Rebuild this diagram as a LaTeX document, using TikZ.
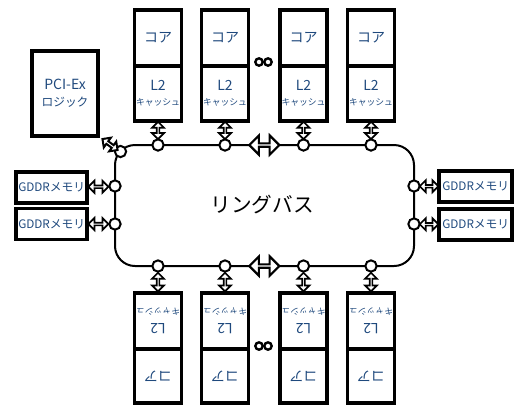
\documentclass[tikz,border=0pt]{standalone}
\usepackage{fontspec}
\setmainfont{Noto Sans CJK JP}
\usetikzlibrary{shapes.arrows,calc}
\definecolor{txtblue}{RGB}{31,73,125}
\begin{document}
\begin{tikzpicture}[x=0.75pt,y=-0.75pt,
  sect/.style={draw, line width=2.3pt, inner sep=0pt, minimum width=35.25pt, minimum height=42pt, text=txtblue, align=center},
  sidebox/.style={draw, line width=2.3pt, inner sep=0pt, minimum height=23.25pt},
  blue9/.style={text=txtblue, font=\fontsize{8.8}{10}\selectfont, inner sep=0pt},
  port/.style={circle, draw, fill=white, line width=1.5pt, minimum size=8.5pt, inner sep=0pt},
  dotc/.style={circle, draw, line width=1.8pt, minimum size=5.5pt, inner sep=0pt},
  ring/.style={line width=1.5pt},
  dbl/.style={double arrow, draw, fill=white, line width=1.3pt, inner sep=0pt, minimum width=9pt, double arrow head extend=2.2pt},
  bigdbl/.style={double arrow, draw, fill=white, line width=1.6pt, inner sep=0pt, minimum width=14.5pt, double arrow head extend=3.8pt}
]
\useasboundingbox (0,0) rectangle (514,405);

% ring bus
\draw[ring, rounded corners=15pt] (115,145) rectangle (414,266);
\node[font=\fontsize{15.5}{18}\selectfont] (ringtxt) at (262,205) {リングバス};

% core units
\foreach \i/\x in {1/158,2/225,3/303.5,4/371}{
  % top
  \node[sect] (tc\i) at (\x,38) {\fontsize{10.5}{12}\selectfont コア};
  \node[sect, minimum height=41.25pt] (tl\i) at (\x,93.5)
     {{\fontsize{10.5}{11}\selectfont L2}\\[-1pt]{\fontsize{6.6}{7}\selectfont キャッシュ}};
  \node[port] (ct\i) at (\x,145) {};
  \node[dbl, rotate=90, minimum height=13pt] (vt\i) at ($(tl\i.south)!0.5!(ct\i.north)$) {};
  % bottom (upside down)
  \node[sect, rotate=180] (bl\i) at (\x,321)
     {{\fontsize{10.5}{11}\selectfont L2}\\[-1pt]{\fontsize{6.6}{7}\selectfont キャッシュ}};
  \node[sect, rotate=180, minimum height=40.5pt] (bc\i) at (\x,376) {\fontsize{10.5}{12}\selectfont コア};
  \node[port] (cb\i) at (\x,266) {};
  \node[dbl, rotate=90, minimum height=14pt] (vb\i) at ($(bl\i.south)!0.5!(cb\i.south)$) {};
}

% dots
\node[dotc] (d1) at (259,62) {};
\node[dotc] (d2) at (268,62) {};
\node[dotc] (d3) at (259,346) {};
\node[dotc] (d4) at (268,346) {};

% middle ring arrows
\node[bigdbl, minimum height=22.5pt] (mt) at ($(ct2)!0.5!(ct3)$) {};
\node[bigdbl, minimum height=22.5pt] (mb) at ($(cb2)!0.5!(cb3)$) {};

% PCI-Ex
\node[draw, line width=2.3pt, minimum width=49.5pt, minimum height=63.75pt, text=txtblue, align=center, inner sep=0pt] (pci) at (65,93.5)
  {{\fontsize{10.5}{12}\selectfont PCI-Ex}\\[1pt]{\fontsize{8.8}{10}\selectfont ロジック}};
\node[port] (cp) at (120.5,151.5) {};
\node[dbl, rotate=-36, minimum height=14pt, minimum width=9pt, double arrow head extend=2pt, line width=1.5pt] (pa) at ($(pci.south east)!0.5!(cp)$) {};

% GDDR left
\node[sidebox, minimum width=53.25pt] (gl1) at (51.5,187.5) {};
\node[blue9, anchor=west] (gl1t) at (18,187.5) {GDDRメモリ};
\node[sidebox, minimum width=53.25pt] (gl2) at (51.5,224) {};
\node[blue9, anchor=west] (gl2t) at (18,224) {GDDRメモリ};
\node[port] (cl1) at (115,186) {};
\node[port] (cl2) at (115,224) {};
\node[dbl, minimum height=15pt] (al1) at ($(gl1.east)!0.5!(cl1.west)$) {};
\node[dbl, minimum height=15pt] (al2) at ($(gl2.east)!0.5!(cl2.west)$) {};

% GDDR right
\node[sidebox, minimum width=54.75pt] (gr1) at (475.5,186.5) {};
\node[blue9, anchor=west] (gr1t) at (442,186.5) {GDDRメモリ};
\node[sidebox, minimum width=54.75pt] (gr2) at (475.5,224.5) {};
\node[blue9, anchor=west] (gr2t) at (442,224.5) {GDDRメモリ};
\node[port] (cr1) at (414,186) {};
\node[port] (cr2) at (414,224) {};
\node[dbl, minimum height=14pt] (ar1) at ($(cr1.east)!0.5!(gr1.west)$) {};
\node[dbl, minimum height=14pt] (ar2) at ($(cr2.east)!0.5!(gr2.west)$) {};
\end{tikzpicture}
\end{document}
